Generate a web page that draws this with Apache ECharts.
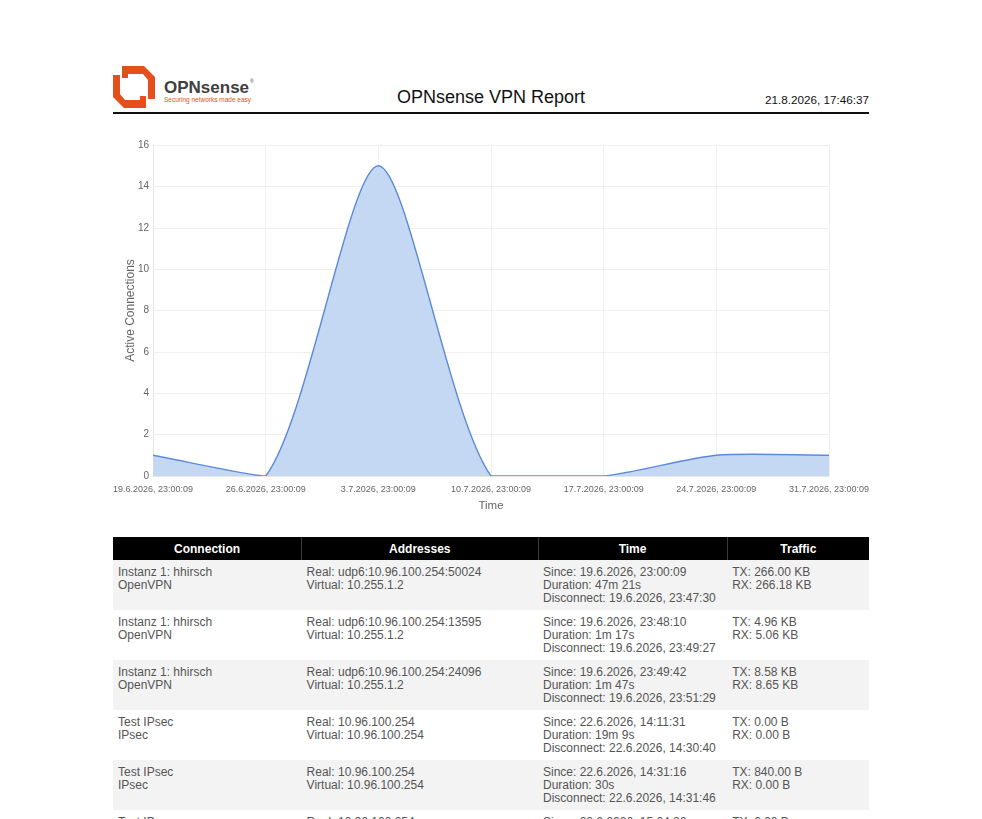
<!DOCTYPE html>
<html>
<head>
<meta charset="utf-8">
<script src="https://cdn.jsdelivr.net/npm/echarts@6/dist/echarts.min.js"></script>
<style>
  html, body { margin: 0; padding: 0; background: #fff; font-family: "Liberation Sans", Arial, sans-serif; }
  #page { position: relative; width: 982px; height: 819px; overflow: hidden; }
  #header { position: absolute; left: 113px; top: 60px; width: 756px; height: 52px; border-bottom: 2px solid #111; }
  #logo { position: absolute; left: 0; top: 6px; }
  #title { position: absolute; left: 0; width: 756px; top: 27px; text-align: center; font-size: 18px; color: #111; }
  #date { position: absolute; right: 0; top: 33px; font-size: 11.7px; color: #111; }
  #chart { position: absolute; left: 100px; top: 130px; width: 790px; height: 390px; }
  #tbl { position: absolute; left: 113px; top: 537px; width: 756px; border-collapse: collapse; font-size: 12px; color: #555; }
  #tbl th { background: #000; color: #fff; font-weight: bold; height: 23px; padding: 0; border-left: 1px solid #3a3a3a; text-align: center; }
  #tbl th:first-child { border-left: none; }
  #tbl td { vertical-align: top; padding: 6px 5px 0 5px; height: 44px; line-height: 13px; }
  #tbl tr:nth-child(odd) td { background: #f3f3f3; }
</style>
</head>
<body>
<div id="page">
  <div id="header">
    <svg id="logo" width="150" height="44" viewBox="0 0 150 44">
      <g fill="#e4501c">
        <path d="M9,0 L31,0 L42,11 L42,33 L35,33 L35,14 L30,8 L15,8 L15,12 L9,12 Z"/>
        <path d="M33,42 L11,42 L0,31 L0,9 L7,9 L7,28 L12,34 L27,34 L27,30 L33,30 Z"/>
      </g>
      <text x="51" y="27" font-family="'Liberation Sans', Arial, sans-serif" font-weight="bold" font-size="17" fill="#404040">OPNsense</text>
      <text x="137" y="17" font-family="'Liberation Sans', Arial, sans-serif" font-size="5" fill="#404040">®</text>
      <text x="51" y="36" font-family="'Liberation Sans', Arial, sans-serif" font-size="6.5" fill="#e4501c">Securing networks made easy</text>
    </svg>
    <div id="title">OPNsense VPN Report</div>
    <div id="date">21.8.2026, 17:46:37</div>
  </div>
  <div id="chart"></div>
  <table id="tbl">
    <thead><tr id="hdr"></tr></thead>
    <tbody id="tbody"></tbody>
  </table>
</div>
<script>
// ---- chart data ----
const timeLabels = [
  "19.6.2026, 23:00:09", "26.6.2026, 23:00:09", "3.7.2026, 23:00:09",
  "10.7.2026, 23:00:09", "17.7.2026, 23:00:09", "24.7.2026, 23:00:09",
  "31.7.2026, 23:00:09"
];
const activeConnections = [1, 0, 15, 0, 0, 1, 1];
const yTicks = { min: 0, max: 16, interval: 2 };

// ---- table data ----
const tableHeaders = ["Connection", "Addresses", "Time", "Traffic"];
const colWidths = [189, 236, 189, 142];
const connections = [
  ["Instanz 1: hhirsch", "OpenVPN"],
  ["Instanz 1: hhirsch", "OpenVPN"],
  ["Instanz 1: hhirsch", "OpenVPN"],
  ["Test IPsec", "IPsec"],
  ["Test IPsec", "IPsec"],
  ["Test IPsec", "IPsec"]
];
const addresses = [
  ["Real: udp6:10.96.100.254:50024", "Virtual: 10.255.1.2"],
  ["Real: udp6:10.96.100.254:13595", "Virtual: 10.255.1.2"],
  ["Real: udp6:10.96.100.254:24096", "Virtual: 10.255.1.2"],
  ["Real: 10.96.100.254", "Virtual: 10.96.100.254"],
  ["Real: 10.96.100.254", "Virtual: 10.96.100.254"],
  ["Real: 10.96.100.254", "Virtual: 10.96.100.254"]
];
const times = [
  ["Since: 19.6.2026, 23:00:09", "Duration: 47m 21s", "Disconnect: 19.6.2026, 23:47:30"],
  ["Since: 19.6.2026, 23:48:10", "Duration: 1m 17s", "Disconnect: 19.6.2026, 23:49:27"],
  ["Since: 19.6.2026, 23:49:42", "Duration: 1m 47s", "Disconnect: 19.6.2026, 23:51:29"],
  ["Since: 22.6.2026, 14:11:31", "Duration: 19m 9s", "Disconnect: 22.6.2026, 14:30:40"],
  ["Since: 22.6.2026, 14:31:16", "Duration: 30s", "Disconnect: 22.6.2026, 14:31:46"],
  ["Since: 22.6.2026, 15:04:26", "", ""]
];
const traffic = [
  ["TX: 266.00 KB", "RX: 266.18 KB"],
  ["TX: 4.96 KB", "RX: 5.06 KB"],
  ["TX: 8.58 KB", "RX: 8.65 KB"],
  ["TX: 0.00 B", "RX: 0.00 B"],
  ["TX: 840.00 B", "RX: 0.00 B"],
  ["TX: 0.00 B", "RX: 0.00 B"]
];

// build table
const hdr = document.getElementById('hdr');
tableHeaders.forEach((h, i) => {
  const th = document.createElement('th');
  th.textContent = h;
  th.style.width = colWidths[i] + 'px';
  hdr.appendChild(th);
});
const tbody = document.getElementById('tbody');
connections.forEach((c, r) => {
  const tr = document.createElement('tr');
  [c, addresses[r], times[r], traffic[r]].forEach(lines => {
    const td = document.createElement('td');
    td.innerHTML = lines.filter(l => l).join('<br>');
    tr.appendChild(td);
  });
  tbody.appendChild(tr);
});

// spline (tension-based, control points capped to plot area) drawn from axis coords
const TENSION = 0.25;
function renderArea(params, api) {
  if (params.dataIndex !== 0) return null;
  const cs = params.coordSys;
  const top = cs.y, bottom = cs.y + cs.height;
  const cap = v => Math.max(top, Math.min(bottom, v));
  const pts = activeConnections.map((v, i) => api.coord([i, v]));
  const n = pts.length;
  const cps = pts.map((p, i) => {
    const prev = i === 0 ? p : pts[i - 1];
    const next = i === n - 1 ? p : pts[i + 1];
    const d01 = Math.hypot(p[0] - prev[0], p[1] - prev[1]);
    const d12 = Math.hypot(next[0] - p[0], next[1] - p[1]);
    let s01 = d01 / (d01 + d12), s12 = d12 / (d01 + d12);
    if (!isFinite(s01)) s01 = 0;
    if (!isFinite(s12)) s12 = 0;
    const fa = TENSION * s01, fb = TENSION * s12;
    const dx = next[0] - prev[0], dy = next[1] - prev[1];
    return {
      prev: [p[0] - fa * dx, cap(p[1] - fa * dy)],
      next: [p[0] + fb * dx, cap(p[1] + fb * dy)]
    };
  });
  let d = 'M' + pts[0][0] + ',' + pts[0][1];
  for (let i = 1; i < n; i++) {
    const a = cps[i - 1].next, b = cps[i].prev, p = pts[i];
    d += ' C' + a[0] + ',' + a[1] + ' ' + b[0] + ',' + b[1] + ' ' + p[0] + ',' + p[1];
  }
  const base = api.coord([0, 0])[1];
  const areaD = d + ' L' + pts[n - 1][0] + ',' + base + ' L' + pts[0][0] + ',' + base + ' Z';
  return {
    type: 'group',
    children: [
      { type: 'path', shape: { pathData: areaD }, style: { fill: '#c5d8f3', stroke: null } },
      { type: 'path', shape: { pathData: d }, style: { fill: null, stroke: '#5b8bd6', lineWidth: 1.4 } }
    ]
  };
}

const chart = echarts.init(document.getElementById('chart'));
chart.setOption({
  animation: false,
  textStyle: { fontFamily: "Liberation Sans, Arial, sans-serif" },
  grid: { left: 53, right: 61, top: 15, bottom: 44 },
  xAxis: {
    type: 'category',
    data: timeLabels,
    boundaryGap: false,
    name: 'Time',
    nameLocation: 'middle',
    nameGap: 24,
    nameTextStyle: { color: '#666', fontSize: 11.5 },
    axisLine: { show: true, lineStyle: { color: '#e6e6e6' } },
    axisTick: { show: false },
    axisLabel: { color: '#666', fontSize: 9, margin: 9, interval: 0 },
    splitLine: { show: true, lineStyle: { color: '#efefef' } }
  },
  yAxis: {
    type: 'value',
    min: yTicks.min, max: yTicks.max, interval: yTicks.interval,
    name: 'Active Connections',
    nameLocation: 'middle',
    nameGap: 16,
    nameMoveOverlap: false,
    nameTextStyle: { color: '#666', fontSize: 12 },
    axisLine: { show: true, lineStyle: { color: '#e6e6e6' } },
    axisTick: { show: false },
    axisLabel: { color: '#666', fontSize: 10, margin: 4 },
    splitLine: { show: true, lineStyle: { color: '#efefef' } }
  },
  series: [{
    type: 'custom',
    coordinateSystem: 'cartesian2d',
    data: activeConnections.map((v, i) => [i, v]),
    encode: { x: 0, y: 1 },
    renderItem: renderArea,
    clip: true
  }]
});
</script>
</body>
</html>
